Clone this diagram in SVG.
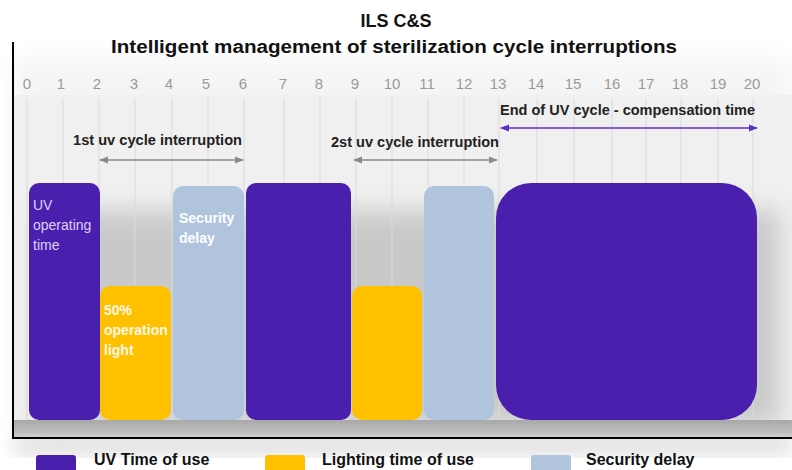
<svg xmlns="http://www.w3.org/2000/svg" width="792" height="470" viewBox="0 0 792 470">
<defs>
<style>
.t{font-family:"Liberation Sans",Arial,sans-serif;}
.tick{font-family:"Liberation Sans",Arial,sans-serif;font-size:15px;fill:#9a9a9a;text-anchor:middle;}
.lbl{font-family:"Liberation Sans",Arial,sans-serif;font-size:14px;font-weight:bold;fill:#222;}
.grid{stroke:#dadada;stroke-width:1;}
.uv{fill:#4B1FAE;}
.ly{fill:#FFC000;}
.sd{fill:#B0C4DE;}
.in{font-family:"Liberation Sans",Arial,sans-serif;font-size:14px;}
.leg{font-family:"Liberation Sans",Arial,sans-serif;font-size:16px;font-weight:bold;fill:#111;}
</style>
<marker id="ag" viewBox="0 0 10 10" refX="9" refY="5" markerWidth="6" markerHeight="6" orient="auto-start-reverse"><path d="M0,1 L10,5 L0,9 z" fill="#8a8a8a"/></marker>
<marker id="ap" viewBox="0 0 10 10" refX="9" refY="5" markerWidth="6" markerHeight="6" orient="auto-start-reverse"><path d="M0,1 L10,5 L0,9 z" fill="#5b2fd0"/></marker>
<filter id="blur" x="-20%" y="-20%" width="140%" height="140%"><feGaussianBlur stdDeviation="9"/></filter>
<filter id="blur2" x="-20%" y="-20%" width="140%" height="140%"><feGaussianBlur stdDeviation="12"/></filter>
<linearGradient id="band" x1="0" y1="0" x2="0" y2="1"><stop offset="0" stop-color="#a8a8a8"/><stop offset="1" stop-color="#c8c8c8"/></linearGradient>
</defs>
<rect width="792" height="470" fill="#ffffff"/>
<g id="background">
<rect x="14" y="60" width="778" height="378" fill="#f4f4f4" filter="url(#blur2)"/>
<rect x="14" y="95" width="778" height="343" fill="#f0f0f0"/>
<rect x="40" y="210" width="740" height="215" fill="#9c9c9c" opacity="0.45" filter="url(#blur2)"/>
<rect x="14" y="420" width="778" height="18" fill="url(#band)"/>
<rect x="14" y="438" width="778" height="16" fill="#dcdcdc" filter="url(#blur)"/>
</g>
<g id="grid">
<line class="grid" x1="27" y1="98" x2="27" y2="420"/>
<line class="grid" x1="63" y1="98" x2="63" y2="420"/>
<line class="grid" x1="99" y1="98" x2="99" y2="420"/>
<line class="grid" x1="135" y1="98" x2="135" y2="420"/>
<line class="grid" x1="172" y1="98" x2="172" y2="420"/>
<line class="grid" x1="208" y1="98" x2="208" y2="420"/>
<line class="grid" x1="244" y1="98" x2="244" y2="420"/>
<line class="grid" x1="284" y1="98" x2="284" y2="420"/>
<line class="grid" x1="320" y1="98" x2="320" y2="420"/>
<line class="grid" x1="356" y1="98" x2="356" y2="420"/>
<line class="grid" x1="392" y1="98" x2="392" y2="420"/>
<line class="grid" x1="428" y1="98" x2="428" y2="420"/>
<line class="grid" x1="464" y1="98" x2="464" y2="420"/>
<line class="grid" x1="499" y1="98" x2="499" y2="420"/>
<line class="grid" x1="537" y1="98" x2="537" y2="420"/>
<line class="grid" x1="574" y1="98" x2="574" y2="420"/>
<line class="grid" x1="612" y1="98" x2="612" y2="420"/>
<line class="grid" x1="646" y1="98" x2="646" y2="420"/>
<line class="grid" x1="681" y1="98" x2="681" y2="420"/>
<line class="grid" x1="718" y1="98" x2="718" y2="420"/>
<line class="grid" x1="753" y1="98" x2="753" y2="420"/>
</g>
<g id="ticks">
<text class="tick" x="27" y="89">0</text>
<text class="tick" x="61" y="89">1</text>
<text class="tick" x="97" y="89">2</text>
<text class="tick" x="134" y="89">3</text>
<text class="tick" x="169" y="89">4</text>
<text class="tick" x="206" y="89">5</text>
<text class="tick" x="243" y="89">6</text>
<text class="tick" x="283" y="89">7</text>
<text class="tick" x="319" y="89">8</text>
<text class="tick" x="355" y="89">9</text>
<text class="tick" x="392" y="89">10</text>
<text class="tick" x="427" y="89">11</text>
<text class="tick" x="464" y="89">12</text>
<text class="tick" x="498" y="89">13</text>
<text class="tick" x="536" y="89">14</text>
<text class="tick" x="573" y="89">15</text>
<text class="tick" x="612" y="89">16</text>
<text class="tick" x="646" y="89">17</text>
<text class="tick" x="680" y="89">18</text>
<text class="tick" x="718" y="89">19</text>
<text class="tick" x="752" y="89">20</text>
</g>
<g id="frame">
<line x1="13" y1="42" x2="13" y2="438" stroke="#000" stroke-width="2"/>
<line x1="12" y1="438" x2="792" y2="438" stroke="#000" stroke-width="2"/>
</g>
<g id="title">
<text class="t" x="396" y="27" font-size="18" font-weight="bold" text-anchor="middle" fill="#111">ILS C&amp;S</text>
<text class="t" x="394" y="53" font-size="18" font-weight="bold" text-anchor="middle" fill="#111" textLength="566" lengthAdjust="spacingAndGlyphs">Intelligent management of sterilization cycle interruptions</text>
</g>
<g id="connectors">
<line x1="100" y1="160" x2="243" y2="160" stroke="#8a8a8a" stroke-width="1.5" marker-start="url(#ag)" marker-end="url(#ag)"/>
<line x1="354" y1="160" x2="497" y2="160" stroke="#8a8a8a" stroke-width="1.5" marker-start="url(#ag)" marker-end="url(#ag)"/>
<line x1="501" y1="128" x2="757" y2="128" stroke="#5b2fd0" stroke-width="1.5" marker-start="url(#ap)" marker-end="url(#ap)"/>
</g>
<g id="labels">
<text class="lbl" x="73" y="145" textLength="169" lengthAdjust="spacingAndGlyphs">1st uv cycle interruption</text>
<text class="lbl" x="331" y="147" textLength="168" lengthAdjust="spacingAndGlyphs">2st uv cycle interruption</text>
<text class="lbl" x="500" y="115" textLength="255" lengthAdjust="spacingAndGlyphs">End of UV cycle - compensation time</text>
</g>
<g id="uv1"><rect class="uv" x="29" y="183" width="71" height="237" rx="10"/>
<text class="in" fill="#ddd2ff"><tspan x="33" y="210">UV</tspan><tspan x="33" y="230">operating</tspan><tspan x="33" y="250">time</tspan></text></g>
<g id="light1"><rect class="ly" x="100" y="286" width="71" height="134" rx="10"/>
<text class="in" font-weight="bold" fill="#fff8e6"><tspan x="104" y="315">50%</tspan><tspan x="104" y="335">operation</tspan><tspan x="104" y="355">light</tspan></text></g>
<g id="sec1"><rect class="sd" x="173" y="186" width="71" height="234" rx="10"/>
<text class="in" font-weight="bold" fill="#ffffff"><tspan x="179" y="223">Security</tspan><tspan x="179" y="243">delay</tspan></text></g>
<g id="uv2"><rect class="uv" x="246" y="183" width="105" height="237" rx="10"/></g>
<g id="light2"><rect class="ly" x="352" y="286" width="70" height="134" rx="10"/></g>
<g id="sec2"><rect class="sd" x="424" y="186" width="70" height="234" rx="10"/></g>
<g id="uv3"><rect class="uv" x="496" y="183" width="261" height="237" rx="35"/></g>
<g id="legend">
<rect class="uv" x="36" y="455" width="40" height="18" rx="3"/>
<text class="leg" x="94" y="465">UV Time of use</text>
<rect class="ly" x="265" y="455" width="40" height="18" rx="3"/>
<text class="leg" x="322" y="465">Lighting time of use</text>
<rect class="sd" x="531" y="455" width="40" height="18" rx="3"/>
<text class="leg" x="586" y="465">Security delay</text>
</g>
</svg>
